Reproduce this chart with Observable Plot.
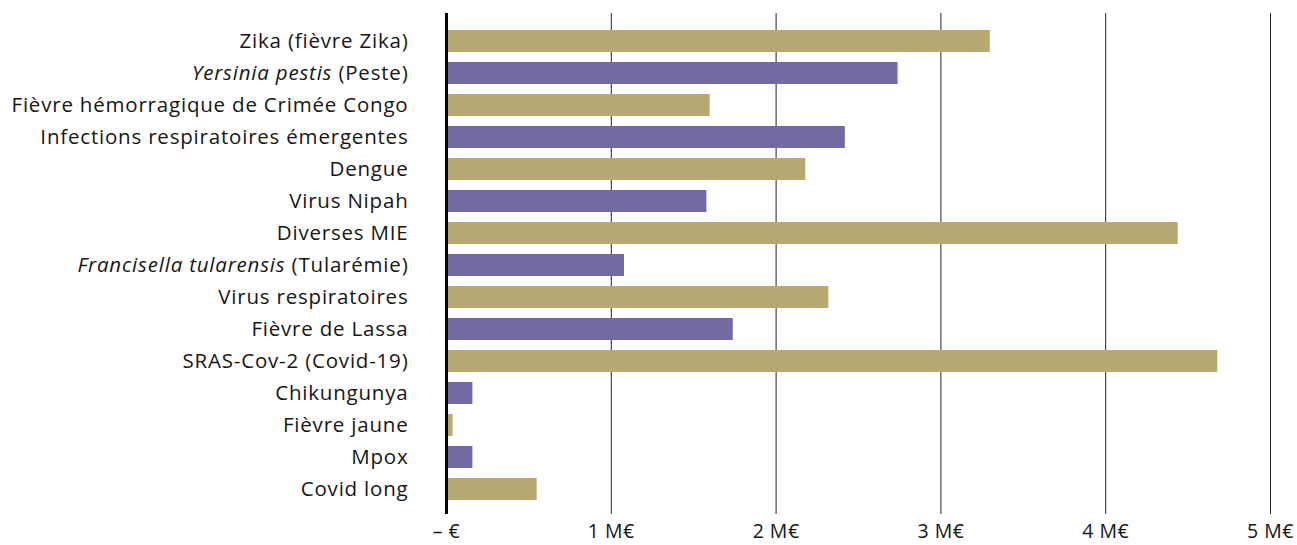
<!DOCTYPE html>
<html><head><meta charset="utf-8">
<script src="https://cdn.jsdelivr.net/npm/d3@7"></script>
<script src="https://cdn.jsdelivr.net/npm/@observablehq/plot@0.6"></script>
<style>
body{margin:0;background:#fff;}
#chart svg text{font-family:"Open Sans",sans-serif;font-size:20.5px;letter-spacing:0.8px;fill:#161616;}
#chart svg g[aria-label='x-axis tick label'] text{font-size:19.5px;letter-spacing:0.5px;}
</style></head>
<body><div id="chart"></div>
<script>
const categories = ["Zika (fièvre Zika)","Yersinia pestis (Peste)","Fièvre hémorragique de Crimée Congo","Infections respiratoires émergentes","Dengue","Virus Nipah","Diverses MIE","Francisella tularensis (Tularémie)","Virus respiratoires","Fièvre de Lassa","SRAS-Cov-2 (Covid-19)","Chikungunya","Fièvre jaune","Mpox","Covid long"];
const values = [3.30,2.74,1.60,2.42,2.18,1.58,4.44,1.08,2.32,1.74,4.68,0.16,0.04,0.16,0.55];
const italicParts = {"Yersinia pestis (Peste)":"Yersinia pestis","Francisella tularensis (Tularémie)":"Francisella tularensis"};
const xTicks = [0,1,2,3,4,5];
const xTickLabels = ["– €","1 M€","2 M€","3 M€","4 M€","5 M€"];

const data = categories.map((c,i)=>({cat:c, value:values[i], grp: i%2===0 ? "A":"B"}));

const plot = Plot.plot({
  width:1297, height:545,
  marginLeft:446, marginRight:27, marginTop:16, marginBottom:31,
  x:{domain:[0,5], label:null},
  y:{domain:categories, padding:0.3, label:null},
  color:{domain:["A","B"], range:["#b8a973","#7469a3"]},
  marks:[
    Plot.ruleX(xTicks.slice(1), {stroke:"#222", strokeWidth:1, insetTop:-3}),
    Plot.barX(data, {y:"cat", x1:0, x2:"value", fill:"grp", insetLeft:2}),
    Plot.ruleX([0], {stroke:"#000", strokeWidth:3, insetTop:-3}),
    Plot.axisX({ticks:xTicks, tickFormat:d=>xTickLabels[xTicks.indexOf(d)], tickSize:0, tickPadding:10, label:null}),
    Plot.axisY({tickSize:0, tickPadding:38, label:null})
  ]
});
document.getElementById("chart").appendChild(plot);
plot.querySelectorAll("g[aria-label='y-axis tick label'] text").forEach(t=>{
  const s = t.textContent;
  if (italicParts[s]) {
    const it = italicParts[s];
    t.textContent = "";
    const a = document.createElementNS("http://www.w3.org/2000/svg","tspan");
    a.setAttribute("font-style","italic"); a.textContent = it;
    const b = document.createElementNS("http://www.w3.org/2000/svg","tspan");
    b.textContent = s.slice(it.length);
    t.appendChild(a); t.appendChild(b);
  }
});
</script></body></html>
